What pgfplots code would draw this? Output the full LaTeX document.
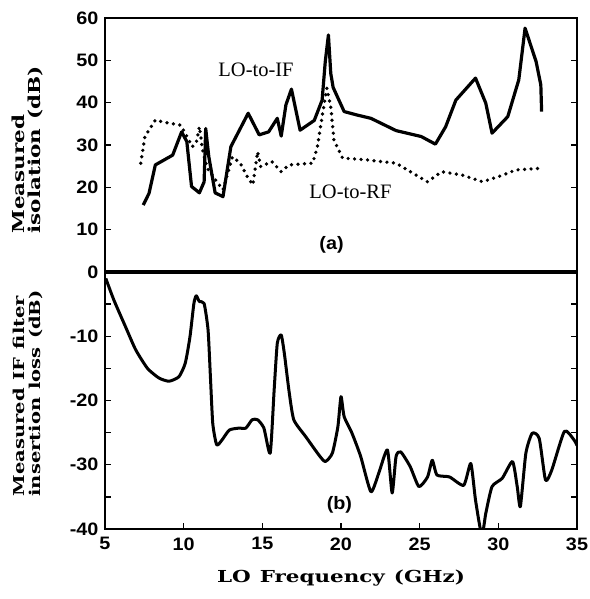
\documentclass[border=0pt]{standalone}
\usepackage{fontspec}
\setmainfont{Liberation Serif}
\newfontfamily\ticksf[FakeStretch=1.1]{Liberation Sans}
\newfontfamily\labserif[FakeStretch=1.3,WordSpace=1.2]{DejaVu Serif}
\usepackage{pgfplots}
\pgfplotsset{compat=1.18}

\pgfplotsset{
  panel/.style={
    scale only axis,
    width=472pt,
    xmin=5, xmax=35,
    axis line style={line width=1.8pt},
    tick style={line width=1.4pt, black},
    major tick length=6pt,
    minor tick length=6pt,
    tick align=inside,
    ytick pos=both,
    yticklabel pos=left,
    tick label style={font=\ticksf\bfseries\fontsize{18}{18}\selectfont},
    yticklabel style={xshift=-3pt},
    xticklabel style={yshift=-5pt},
    ylabel style={font=\labserif\bfseries\fontsize{16.5}{16}\selectfont,
      align=left, anchor=west},
    xlabel style={font=\labserif\bfseries\fontsize{16.5}{18}\selectfont,
      at={(axis description cs:0.5,-0.19)}, anchor=center},
  },
}

\begin{document}
\begin{tikzpicture}
\path[use as bounding box] (0,0) rectangle (589pt,599pt);

% (b) IF filter insertion loss
\begin{axis}[panel,
  at={(105pt,70pt)}, anchor=south west,
  height=257pt,
  ymin=-40, ymax=0,
  xtick={5,10,15,20,25,30,35},
  xticklabels={5,10,15,20,25,30,35},
  xtick pos=bottom,
  ytick={-40,-30,-20,-10},
  yticklabels={-40,-30,-20,-10},
  minor ytick={-35,-25,-15,-5},
  xlabel={LO Frequency (GHz)},
  ylabel={Measured IF filter\\insertion loss (dB)},
  ylabel style={at={(axis description cs:-0.163,0.113)},
    font=\labserif\bfseries\fontsize{15}{16}\selectfont},
]
\addplot[black, line width=3pt, smooth, tension=0.35, line join=round] coordinates {
(5.05,-1.0) (5.57,-4.4) (6.3,-8.5) (6.95,-12.1) (7.7,-15.0) (8.43,-16.5)
(9.07,-17.0) (9.7,-16.3) (10.1,-14.2) (10.4,-10.1) (10.65,-4.9) (10.8,-3.7)
(11.0,-4.6) (11.3,-4.9) (11.55,-9.0) (11.7,-16.3) (11.85,-23.6) (12.1,-26.9)
(12.45,-26.1) (12.9,-24.6) (13.5,-24.3) (13.95,-24.3) (14.35,-23.0) (14.7,-23.0)
(15.1,-24.3) (15.5,-28.2) (15.75,-18.4) (15.95,-11.1) (16.2,-9.8) (16.4,-12.7)
(16.7,-18.6) (17.0,-23.0) (17.75,-25.6) (18.6,-28.5) (19.0,-29.5) (19.45,-28.2)
(19.8,-24.1) (20.0,-19.4) (20.2,-22.5) (20.7,-25.1) (21.25,-28.7) (21.9,-34.2)
(22.4,-31.3) (22.95,-27.7) (23.25,-34.4) (23.5,-28.7) (23.8,-28.0) (24.4,-30.3)
(24.95,-33.4) (25.5,-31.9) (25.8,-29.3) (26.1,-31.6) (26.9,-31.9) (27.8,-33.2)
(28.25,-29.8) (28.55,-35.5) (28.95,-41) (29.2,-37.6) (29.6,-33.4) (30.25,-32.1)
(30.9,-29.5) (31.2,-33.4) (31.4,-36.5) (31.75,-28.2) (32.15,-25.1) (32.6,-25.9)
(33.0,-32.4) (33.4,-30.8) (34.2,-24.8) (34.8,-26.1) (35,-27)
};
\node[font=\ticksf\bfseries\fontsize{18}{18}\selectfont] at (axis cs:19.9,-36.3) {(b)};
\end{axis}

% (a) measured isolation
\begin{axis}[panel,
  at={(105pt,327pt)}, anchor=south west,
  height=254pt,
  ymin=0, ymax=60,
  xtick=\empty,
  ytick={0,10,20,30,40,50,60},
  yticklabels={0,10,20,30,40,50,60},
  ylabel={Measured\\isolation (dB)},
  ylabel style={at={(axis description cs:-0.165,0.138)}},
]
\addplot[black, line width=3.2pt, line join=round] coordinates {
(7.43,15.8) (7.8,18.6) (8.2,25.3) (9.3,27.6) (9.87,33.1) (10.2,30.8)
(10.5,20.2) (11.0,18.7) (11.3,21.3) (11.4,33.9) (11.6,27.2) (12.0,18.7)
(12.5,17.8) (13.0,29.6) (14.1,37.5) (14.8,32.4) (15.4,33.1) (15.95,36.3)
(16.2,32.1) (16.5,39.5) (16.85,43.2) (17.4,33.5) (18.3,35.8) (18.8,40.6)
(19.0,49.7) (19.2,56) (19.35,46.9) (19.5,43.6) (20.2,37.9) (21.0,37.1)
(21.9,36.3) (23.5,33.4) (25.1,32.0) (26.0,30.2) (26.65,34.3) (27.3,40.6)
(28.55,45.8) (29.2,39.9) (29.6,32.8) (30.6,36.7) (31.3,45.4) (31.7,57.6)
(32.4,49.7) (32.7,44.2) (32.75,37.9)
};
\addplot[black, line width=3.7pt, line cap=round, dash pattern=on 0pt off 6.5pt] coordinates {
(7.27,25.7) (7.54,32) (8.2,35.9) (8.85,35.3) (9.8,34.7) (10.1,32.8)
(10.55,29.6) (10.8,30.5) (11.0,34.3) (11.2,28.8) (11.5,24.5) (12.04,21.7)
(12.5,19.4) (12.8,23.3) (13.1,27.2) (13.6,25.7) (14.05,22.5) (14.4,20.6)
(14.7,28.4) (14.9,24.9) (15.6,26.1) (16.2,23.7) (16.7,25.3) (18.2,25.7)
(18.5,29.6) (18.8,36.7) (19.1,43.4) (19.35,39) (19.55,31.2) (20.1,26.9)
(21.6,26.5) (23.5,25.7) (25.5,21.3) (26.4,23.7) (27.7,22.9) (29.0,21.3)
(30.3,22.9) (31.1,24.1) (32.7,24.5)
};
\node[font=\fontsize{20.5}{20.5}\selectfont] at (axis cs:14.6,47.7) {LO-to-IF};
\node[font=\fontsize{20.5}{20.5}\selectfont] at (axis cs:20.6,18.9) {LO-to-RF};
\node[font=\ticksf\bfseries\fontsize{18}{18}\selectfont] at (axis cs:19.4,6.4) {(a)};
\end{axis}

\draw[line width=3.5pt] (105pt,327pt) -- (577pt,327pt);
\end{tikzpicture}
\end{document}
